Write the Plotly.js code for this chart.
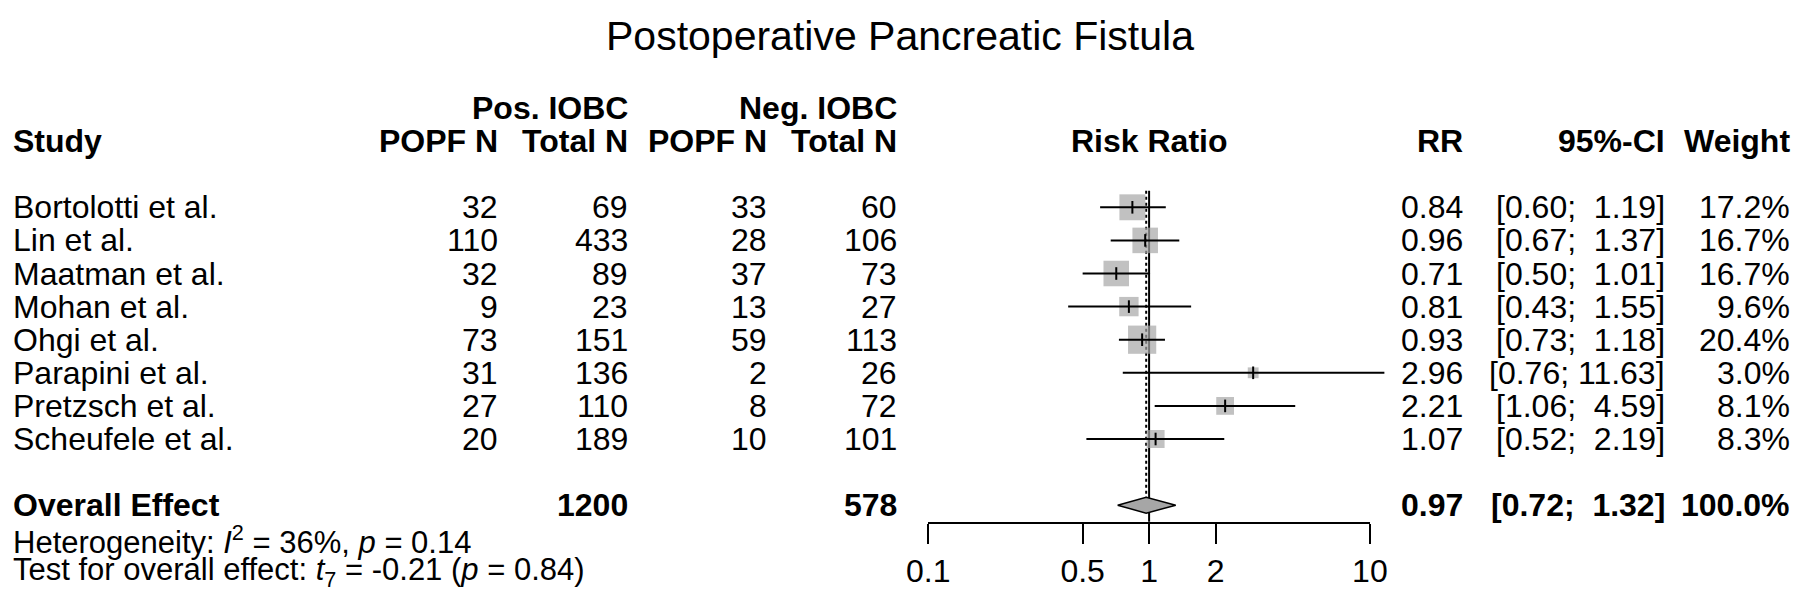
<!DOCTYPE html>
<html><head><meta charset="utf-8">
<script src="https://cdn.plot.ly/plotly-3.0.1.min.js"></script>
<style>html,body{margin:0;padding:0;background:#fff}</style>
</head><body><div id="chart" style="width:1800px;height:607px"></div>
<script>
// ---------- data ----------
const studies = ["Bortolotti et al.","Lin et al.","Maatman et al.","Mohan et al.","Ohgi et al.","Parapini et al.","Pretzsch et al.","Scheufele et al."];
const posEvents = [32,110,32,9,73,31,27,20];
const posTotal  = [69,433,89,23,151,136,110,189];
const negEvents = [33,28,37,13,59,2,8,10];
const negTotal  = [60,106,73,27,113,26,72,101];
const rr     = [0.84,0.96,0.71,0.81,0.93,2.96,2.21,1.07];
const ciLow  = [0.60,0.67,0.50,0.43,0.73,0.76,1.06,0.52];
const ciHigh = [1.19,1.37,1.01,1.55,1.18,11.63,4.59,2.19];
const weights = [17.2,16.7,16.7,9.6,20.4,3.0,8.1,8.3];
const overallRR = 0.97, overallLow = 0.72, overallHigh = 1.32, overallWeight = 100.0;
const tickVals = [0.1,0.5,1,2,10];
const tickText = ["0.1","0.5","1","2","10"];
const heteroLine = "Heterogeneity: <i>I</i><sup>2</sup> = 36%, <i>p</i> = 0.14";
const testLine = "Test for overall effect: <i>t</i><sub>7</sub> = -0.21 (<i>p</i> = 0.84)";
const titleText = "Postoperative Pancreatic Fistula";

// ---------- layout helpers ----------
const W = 1800, H = 607;
const FONT = "Liberation Sans, Arial, Helvetica, sans-serif";
const rowTop = 207.3, rowStep = 33.1;          // pixel position of row 1 and row pitch
const rowOfPx = px => 1 + (px - rowTop) / rowStep;
const xLeftPx = 928.3, decadePx = 220.8;        // position of 0.1 and px per decade
const xDataMax = 1.1;                           // log10 upper limit of data axis
const axisLinePx = 521.7;

const rows = studies.map((_, i) => i + 1);
const overallRow = studies.length + 2;
const sqScale = 6.25;
const diamondHalf = 0.24;
const grey = "#a6a6a6";

const fmt2 = v => v.toFixed(2);
const ciStr = (lo, hi) => "[" + fmt2(lo) + ";\u00A0" + (hi < 10 ? "\u00A0" : "") + fmt2(hi) + "]";

// ---------- traces ----------
const ciX = [], ciY = [];
rows.forEach((r, i) => { ciX.push(ciLow[i], ciHigh[i], null); ciY.push(r, r, null); });

const traces = [
  { // reference line at RR = 1
    type: "scatter", mode: "lines", x: [1, 1], y: [0.5, overallRow + 0.5],
    line: { color: "black", width: 2 }, hoverinfo: "skip", showlegend: false },
  { // dotted line at overall effect
    type: "scatter", mode: "lines", x: [overallRR, overallRR], y: [0.5, overallRow - diamondHalf],
    line: { color: "black", width: 2, dash: "dot" }, hoverinfo: "skip", showlegend: false },
  { // weight squares
    type: "scatter", mode: "markers", x: rr, y: rows,
    marker: { symbol: "square", size: weights.map(w => sqScale * Math.sqrt(w)), color: grey, line: { width: 0 } },
    hoverinfo: "skip", showlegend: false },
  { // confidence intervals
    type: "scatter", mode: "lines", x: ciX, y: ciY,
    line: { color: "black", width: 2 }, hoverinfo: "skip", showlegend: false },
  { // point estimates
    type: "scatter", mode: "markers", x: rr, y: rows,
    marker: { symbol: "line-ns", size: 9, line: { color: "black", width: 2 } },
    hoverinfo: "skip", showlegend: false },
  { // overall diamond
    type: "scatter", mode: "lines", fill: "toself", fillcolor: grey,
    x: [overallLow, overallRR, overallHigh, overallRR, overallLow],
    y: [overallRow, overallRow - diamondHalf, overallRow, overallRow + diamondHalf, overallRow],
    line: { color: "black", width: 1.5 }, hoverinfo: "skip", showlegend: false },
  { // carrier for the bottom axis
    type: "scatter", mode: "markers", x: tickVals, y: tickVals.map(() => 0.5),
    xaxis: "x2", yaxis: "y2", marker: { opacity: 0 }, hoverinfo: "skip", showlegend: false }
];

// ---------- annotations (table) ----------
const col = { study: 11, posE: 500, posT: 630, negE: 769, negT: 899, rr: 1465, ci: 1667, w: 1792 };
const anns = [];
function ann(text, px, row, anchor, size) {
  anns.push({ text: text, xref: "paper", yref: "y", x: px / W, y: row,
    xanchor: anchor, yanchor: "middle", showarrow: false,
    font: { family: FONT, size: size || 32, color: "black" } });
}
// headers
ann("<b>Pos. IOBC</b>", col.posT, -2, "right");
ann("<b>Neg. IOBC</b>", col.negT, -2, "right");
ann("<b>Study</b>", col.study, -1, "left");
ann("<b>POPF N</b>", col.posE, -1, "right");
ann("<b>Total N</b>", col.posT, -1, "right");
ann("<b>POPF N</b>", col.negE, -1, "right");
ann("<b>Total N</b>", col.negT, -1, "right");
anns.push({ text: "<b>Risk Ratio</b>", xref: "x", yref: "y", x: Math.log10(1), y: -1,
  xanchor: "center", yanchor: "middle", showarrow: false, font: { family: FONT, size: 32, color: "black" } });
ann("<b>RR</b>", col.rr, -1, "right");
ann("<b>95%-CI</b>", col.ci, -1, "right");
ann("<b>Weight</b>", col.w, -1, "right");
// study rows
rows.forEach((r, i) => {
  ann(studies[i], col.study, r, "left");
  ann(String(posEvents[i]), col.posE, r, "right");
  ann(String(posTotal[i]), col.posT, r, "right");
  ann(String(negEvents[i]), col.negE, r, "right");
  ann(String(negTotal[i]), col.negT, r, "right");
  ann(fmt2(rr[i]), col.rr, r, "right");
  ann(ciStr(ciLow[i], ciHigh[i]), col.ci, r, "right");
  ann(weights[i].toFixed(1) + "%", col.w, r, "right");
});
// overall row
const sum = a => a.reduce((s, v) => s + v, 0);
ann("<b>Overall Effect</b>", col.study, overallRow, "left");
ann("<b>" + sum(posTotal) + "</b>", col.posT, overallRow, "right");
ann("<b>" + sum(negTotal) + "</b>", col.negT, overallRow, "right");
ann("<b>" + fmt2(overallRR) + "</b>", col.rr, overallRow, "right");
ann("<b>" + ciStr(overallLow, overallHigh) + "</b>", col.ci, overallRow, "right");
ann("<b>" + overallWeight.toFixed(1) + "%</b>", col.w, overallRow, "right");
ann(heteroLine, col.study, rowOfPx(540), "left", 31);
ann(testLine, col.study, rowOfPx(572), "left", 31);

// ---------- layout ----------
const xDom0 = xLeftPx / W;
const xDom1 = (xLeftPx + (xDataMax + 1) * decadePx) / W;
const xDom2 = (xLeftPx + 2 * decadePx) / W;
const yAxisPos = 1 - axisLinePx / H;

const layout = {
  width: W, height: H,
  margin: { l: 0, r: 0, t: 0, b: 0 },
  paper_bgcolor: "white", plot_bgcolor: "rgba(0,0,0,0)",
  showlegend: false,
  font: { family: FONT, color: "black" },
  title: { text: titleText, font: { family: FONT, size: 41, color: "black" },
    x: 0.5, xanchor: "center", xref: "paper", y: 1 - 36 / H, yanchor: "middle", yref: "container" },
  xaxis: { type: "log", domain: [xDom0, xDom1], range: [-1, xDataMax], visible: false, fixedrange: true },
  yaxis: { domain: [0, 1], range: [rowOfPx(H), rowOfPx(0)], visible: false, fixedrange: true },
  xaxis2: { type: "log", domain: [xDom0, xDom2], range: [-1, 1], anchor: "y2",
    tickmode: "array", tickvals: tickVals, ticktext: tickText,
    ticks: "outside", ticklen: 20, tickwidth: 2, tickcolor: "black",
    showline: true, linecolor: "black", linewidth: 2, showgrid: false, zeroline: false,
    tickfont: { family: FONT, size: 32, color: "black" }, fixedrange: true },
  yaxis2: { domain: [yAxisPos, yAxisPos + 0.02], range: [0, 1], anchor: "x2", visible: false, fixedrange: true },
  annotations: anns
};

Plotly.newPlot("chart", traces, layout, { staticPlot: true, displayModeBar: false });
</script>
</body></html>
